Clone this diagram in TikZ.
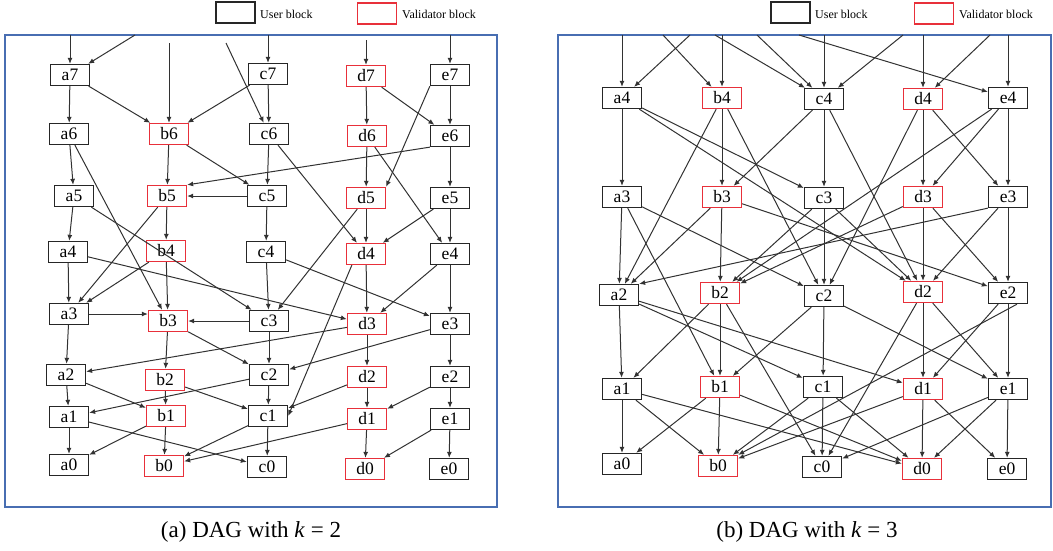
\documentclass[tikz,border=0pt]{standalone}
\usepackage{fontspec}
\setmainfont{Liberation Serif}
\usetikzlibrary{arrows.meta}
\definecolor{valred}{RGB}{232,48,58}
\definecolor{framecol}{RGB}{72,110,178}
\definecolor{edgecol}{RGB}{50,50,50}
\begin{document}
\begin{tikzpicture}[x=1pt,y=-1pt,
 blk/.style={draw, line width=1.3pt, minimum width=39pt, minimum height=21pt, inner sep=0pt, font=\fontsize{17.5}{17.5}\selectfont},
 ublk/.style={blk, draw=black!85},
 vblk/.style={blk, draw=valred},
 lgd/.style={font=\fontsize{12}{12}\selectfont, anchor=west, inner sep=0pt},
 conn/.style={draw=edgecol, line width=1pt, -{Latex[length=6pt,width=5pt]}},
 panel/.style={draw=framecol, line width=1.1pt},
 captxt/.style={font=\fontsize{23}{23}\selectfont}]
\useasboundingbox (0,0) rectangle (1053,550);
\draw[panel] (5,35) rectangle (497,507);
\draw[panel] (558,35) rectangle (1051,507);

% legends
\node[ublk] (lgUa) at (235.5,12.5) {};
\node[lgd] (lgUat) at (260,14) {User block};
\node[vblk] (lgVa) at (377,13.5) {};
\node[lgd] (lgVat) at (402,14) {Validator block};
\node[ublk] (lgUb) at (790.5,12.5) {};
\node[lgd] (lgUbt) at (815,14) {User block};
\node[vblk] (lgVb) at (934,13.5) {};
\node[lgd] (lgVbt) at (959,14) {Validator block};

% captions
\node[captxt] (capA) at (251,532) {(a) DAG with \textit{k} = 2};
\node[captxt] (capB) at (807,532) {(b) DAG with \textit{k} = 3};

% ---------- left panel nodes ----------
\node[ublk] (La7) at (70,75) {a7};
\node[ublk] (Lc7) at (268,74) {c7};
\node[vblk] (Ld7) at (366,76) {d7};
\node[ublk] (Le7) at (450,75) {e7};
\node[ublk] (La6) at (69,134) {a6};
\node[vblk] (Lb6) at (169,134) {b6};
\node[ublk] (Lc6) at (269,134) {c6};
\node[vblk] (Ld6) at (367,136) {d6};
\node[ublk] (Le6) at (450,136) {e6};
\node[ublk] (La5) at (74,196) {a5};
\node[vblk] (Lb5) at (167,196) {b5};
\node[ublk] (Lc5) at (267,196) {c5};
\node[vblk] (Ld5) at (366,198) {d5};
\node[ublk] (Le5) at (450,198) {e5};
\node[ublk] (La4) at (68,252) {a4};
\node[vblk] (Lb4) at (166,251) {b4};
\node[ublk] (Lc4) at (266,252) {c4};
\node[vblk] (Ld4) at (366,254) {d4};
\node[ublk] (Le4) at (450,254) {e4};
\node[ublk] (La3) at (69,314) {a3};
\node[vblk] (Lb3) at (168,321) {b3};
\node[ublk] (Lc3) at (269,321) {c3};
\node[vblk] (Ld3) at (367,324) {d3};
\node[ublk] (Le3) at (450,324) {e3};
\node[ublk] (La2) at (66,375) {a2};
\node[vblk] (Lb2) at (165,380) {b2};
\node[ublk] (Lc2) at (269,375) {c2};
\node[vblk] (Ld2) at (367,377) {d2};
\node[ublk] (Le2) at (450,377) {e2};
\node[ublk] (La1) at (69,417) {a1};
\node[vblk] (Lb1) at (166,416) {b1};
\node[ublk] (Lc1) at (268,416) {c1};
\node[vblk] (Ld1) at (367,419) {d1};
\node[ublk] (Le1) at (450,419) {e1};
\node[ublk] (La0) at (69,465) {a0};
\node[vblk] (Lb0) at (164,466) {b0};
\node[ublk] (Lc0) at (267,467) {c0};
\node[vblk] (Ld0) at (365,469) {d0};
\node[ublk] (Le0) at (449,469) {e0};

% left incoming from above
\coordinate (LtA) at (70,35);
\coordinate (LtB) at (135,35);
\coordinate (LtC) at (169,43);
\coordinate (LtD) at (226,43);
\coordinate (LtE) at (268,35);
\coordinate (LtF) at (366,40);
\coordinate (LtG) at (450,35);
\foreach \s/\t in {LtA/La7,LtB/La7,LtC/Lb6,LtD/Lc6,LtE/Lc7,LtF/Ld7,LtG/Le7}
  \draw[conn] (\s) -- (\t);

% left edges
\foreach \s/\t in {La7/La6,La7/Lb6,Lc7/Lc6,Lc7/Lb6,Ld7/Ld6,Ld7/Le6,Le7/Le6,
  La6/La5,La6/Lb3,Lb6/Lb5,Lb6/Lc5,Lc6/Lc5,Lc6/Ld4,Ld6/Ld5,Ld6/Le4,Le6/Le5,
  La5/La4,La5/Lc3,Lb5/Lb4,Lb5/La3,Lc5/Lc4,Lc5/Lb5,Ld5/Ld4,Ld5/Lc3,Le5/Le4,Le5/Ld4,
  La4/La3,La4/Ld3,Lb4/Lb3,Lb4/La3,Lc4/Lc3,Lc4/Le3,Ld4/Ld3,Le4/Le3,Le4/Ld3,
  La3/La2,Lb3/Lb2,Lb3/Lc2,Lc3/Lc2,Lc3/Lb3,Ld3/Ld2,Ld3/La2,Le3/Le2,Le3/Lc2,
  La2/La1,La2/Lb1,Lb2/Lb1,Lb2/Lc1,Lc2/Lc1,Lc2/La1,Ld2/Ld1,Ld2/Lc1,Le2/Le1,Le2/Ld1,
  La1/La0,La1/Lc0,Lb1/Lb0,Lb1/La0,Lc1/Lc0,Lc1/Lb0,Ld1/Ld0,Ld1/Lb0,Le1/Le0,Le1/Ld0}
  \draw[conn] (\s) -- (\t);
\draw[conn] (Le7.south west) -- (Ld5.north east);
\draw[conn] (Le6.south west) -- (Lb5.north east);
\draw[conn] ([xshift=6pt]Ld4.south west) -- (Lc1.east);
\draw[conn] (La3) -- (La3 -| Lb3.west);

% ---------- right panel nodes ----------
\node[ublk] (Ra4) at (622,98) {a4};
\node[vblk] (Rb4) at (722,98) {b4};
\node[ublk] (Rc4) at (824,99) {c4};
\node[vblk] (Rd4) at (923,99) {d4};
\node[ublk] (Re4) at (1008,98) {e4};
\node[ublk] (Ra3) at (622,197) {a3};
\node[vblk] (Rb3) at (722,197) {b3};
\node[ublk] (Rc3) at (824,198) {c3};
\node[vblk] (Rd3) at (923,197) {d3};
\node[ublk] (Re3) at (1008,197) {e3};
\node[ublk] (Ra2) at (619,295) {a2};
\node[vblk] (Rb2) at (720,293) {b2};
\node[ublk] (Rc2) at (824,296) {c2};
\node[vblk] (Rd2) at (923,292) {d2};
\node[ublk] (Re2) at (1008,293) {e2};
\node[ublk] (Ra1) at (622,389) {a1};
\node[vblk] (Rb1) at (720,387) {b1};
\node[ublk] (Rc1) at (823,387) {c1};
\node[vblk] (Rd1) at (923,389) {d1};
\node[ublk] (Re1) at (1008,389) {e1};
\node[ublk] (Ra0) at (622,464) {a0};
\node[vblk] (Rb0) at (718,466) {b0};
\node[ublk] (Rc0) at (822,467) {c0};
\node[vblk] (Rd0) at (922,469) {d0};
\node[ublk] (Re0) at (1007,469) {e0};

% right incoming from above
\coordinate (RtA) at (622,35);
\coordinate (RtB) at (690,35);
\coordinate (RtC) at (663,35);
\coordinate (RtD) at (722,35);
\coordinate (RtE) at (715,35);
\coordinate (RtF) at (757,35);
\coordinate (RtG) at (824,35);
\coordinate (RtH) at (903,35);
\coordinate (RtI) at (923,35);
\coordinate (RtJ) at (990,35);
\coordinate (RtK) at (799,35);
\coordinate (RtL) at (1008,35);
\foreach \s/\t in {RtA/Ra4,RtB/Ra4,RtC/Rb4,RtD/Rb4,RtE/Rc4,RtF/Rc4,RtG/Rc4,RtH/Rc4,RtI/Rd4,RtJ/Rd4,RtK/Re4,RtL/Re4}
  \draw[conn] (\s) -- (\t);

% right edges
\foreach \s/\t in {Ra4/Ra3,Ra4/Rc3,Ra4/Rd2,
  Rb4/Rb3,Rb4/Ra2,Rb4/Rc2,
  Rc4/Rc3,Rc4/Rb3,Rc4/Rd2,
  Rd4/Rd3,Rd4/Rc2,Rd4/Re3,
  Re4/Re3,Re4/Rb2,Re4/Rd3,
  Ra3/Ra2,Ra3/Rb1,Ra3/Rc2,
  Rb3/Rb2,Rb3/Ra2,Rb3/Re2,
  Rc3/Rc2,Rc3/Rb2,Rc3/Rd2,
  Rd3/Rd2,Rd3/Rb2,Rd3/Re2,
  Re3/Re2,Re3/Rd2,
  Ra2/Ra1,Ra2/Rc1,Ra2/Rd1,
  Rb2/Rb1,Rb2/Ra1,Rb2/Rc0,
  Rc2/Rc1,Rc2/Rb1,Rc2/Re1,
  Rd2/Rd1,Rd2/Rc0,Rd2/Re1,
  Re2/Re1,Re2/Rd1,
  Ra1/Ra0,Ra1/Rb0,Ra1/Rd0,
  Rb1/Rb0,Rb1/Ra0,Rb1/Rd0,
  Rc1/Rc0,Rc1/Rb0,Rc1/Rd0,
  Rd1/Rd0,Rd1/Rb0,Rd1/Re0,
  Re1/Re0,Re1/Rc0,Re1/Rd0}
  \draw[conn] (\s) -- (\t);
\draw[conn] (Re3.south west) -- (Ra2.north east);
\draw[conn] ([xshift=9pt]Re2.south) -- (Rb0.north east);
\end{tikzpicture}
\end{document}
